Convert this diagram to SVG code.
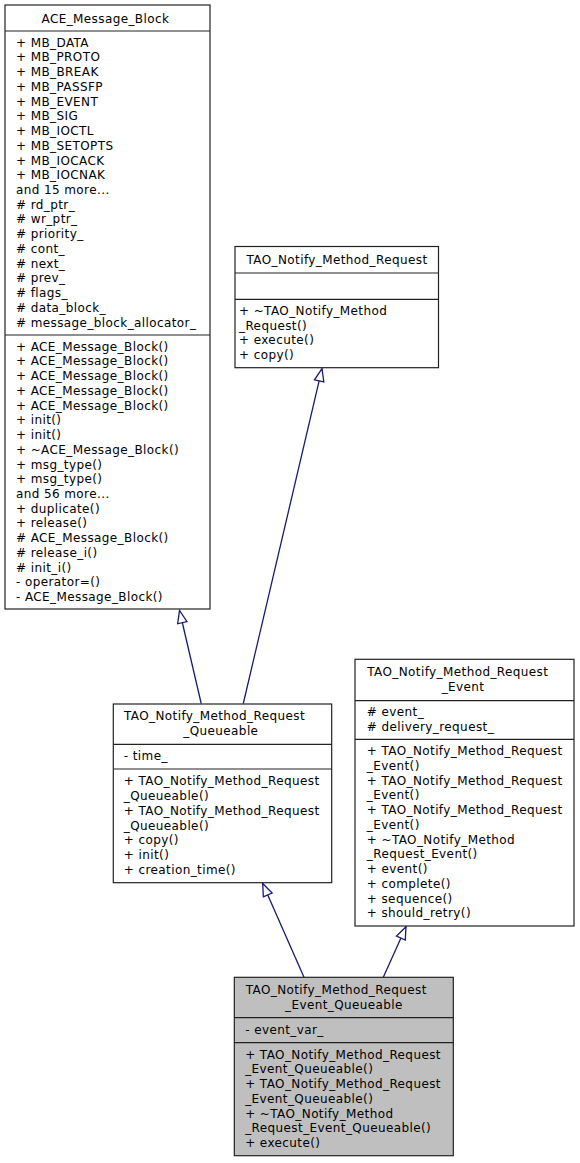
<svg xmlns="http://www.w3.org/2000/svg" width="580" height="1163" viewBox="0 0 580 1163">
<style>
text{font-family:"DejaVu Sans","Liberation Sans",sans-serif;font-size:12px;letter-spacing:0.4px;fill:#000}
.box{fill:#fff;stroke:#222;stroke-width:1.2}
.cur{fill:#bfbfbf;stroke:#222;stroke-width:1.2}
.sep{stroke:#222;stroke-width:1.2}
.edge{stroke:#191970;stroke-width:1.3;fill:none;marker-end:url(#empty)}
</style>
<defs>
<marker id="empty" markerUnits="userSpaceOnUse" viewBox="-14 -6 16 12" markerWidth="16" markerHeight="12" refX="0" refY="0" orient="auto">
<path d="M0,0 L-12.5,-4.8 L-12.5,4.8 Z" fill="#fff" stroke="#191970" stroke-width="1.3"/>
</marker>
</defs>
<rect width="580" height="1163" fill="#fff"/>
<g id="edges">
<line class="edge" x1="201.2" y1="703.5" x2="179.5" y2="610.5"/>
<line class="edge" x1="243.3" y1="703.5" x2="322" y2="368.7"/>
<line class="edge" x1="304" y1="977.3" x2="262.7" y2="883.5"/>
<line class="edge" x1="383.3" y1="977.3" x2="406" y2="926.7"/>
</g>
<g id="ACE_Message_Block">
<rect class="box" x="5" y="5" width="205" height="604"/>
<line class="sep" x1="5" y1="31" x2="210" y2="31"/>
<line class="sep" x1="5" y1="335" x2="210" y2="335"/>
<text x="41.5" y="22.5">ACE_Message_Block</text>
<text y="46.6"><tspan x="16" dy="0">+ MB_DATA</tspan><tspan x="16" dy="14.74">+ MB_PROTO</tspan><tspan x="16" dy="14.74">+ MB_BREAK</tspan><tspan x="16" dy="14.74">+ MB_PASSFP</tspan><tspan x="16" dy="14.74">+ MB_EVENT</tspan><tspan x="16" dy="14.74">+ MB_SIG</tspan><tspan x="16" dy="14.74">+ MB_IOCTL</tspan><tspan x="16" dy="14.74">+ MB_SETOPTS</tspan><tspan x="16" dy="14.74">+ MB_IOCACK</tspan><tspan x="16" dy="14.74">+ MB_IOCNAK</tspan><tspan x="16" dy="14.74">and 15 more...</tspan><tspan x="16" dy="14.74"># rd_ptr_</tspan><tspan x="16" dy="14.74"># wr_ptr_</tspan><tspan x="16" dy="14.74"># priority_</tspan><tspan x="16" dy="14.74"># cont_</tspan><tspan x="16" dy="14.74"># next_</tspan><tspan x="16" dy="14.74"># prev_</tspan><tspan x="16" dy="14.74"># flags_</tspan><tspan x="16" dy="14.74"># data_block_</tspan><tspan x="16" dy="14.74"># message_block_allocator_</tspan></text>
<text y="350.6"><tspan x="16" dy="0">+ ACE_Message_Block()</tspan><tspan x="16" dy="14.74">+ ACE_Message_Block()</tspan><tspan x="16" dy="14.74">+ ACE_Message_Block()</tspan><tspan x="16" dy="14.74">+ ACE_Message_Block()</tspan><tspan x="16" dy="14.74">+ ACE_Message_Block()</tspan><tspan x="16" dy="14.74">+ init()</tspan><tspan x="16" dy="14.74">+ init()</tspan><tspan x="16" dy="14.74">+ ~ACE_Message_Block()</tspan><tspan x="16" dy="14.74">+ msg_type()</tspan><tspan x="16" dy="14.74">+ msg_type()</tspan><tspan x="16" dy="14.74">and 56 more...</tspan><tspan x="16" dy="14.74">+ duplicate()</tspan><tspan x="16" dy="14.74">+ release()</tspan><tspan x="16" dy="14.74"># ACE_Message_Block()</tspan><tspan x="16" dy="14.74"># release_i()</tspan><tspan x="16" dy="14.74"># init_i()</tspan><tspan x="16" dy="14.74">- operator=()</tspan><tspan x="16" dy="14.74">- ACE_Message_Block()</tspan></text>
</g>
<g id="TAO_Notify_Method_Request">
<rect class="box" x="235" y="246.5" width="203.5" height="121.2"/>
<line class="sep" x1="235" y1="273" x2="438.5" y2="273"/>
<line class="sep" x1="235" y1="299.3" x2="438.5" y2="299.3"/>
<text x="246.5" y="263.8">TAO_Notify_Method_Request</text>
<text y="315"><tspan x="239" dy="0">+ ~TAO_Notify_Method</tspan><tspan x="239" dy="14.74">_Request()</tspan><tspan x="239" dy="14.74">+ execute()</tspan><tspan x="239" dy="14.74">+ copy()</tspan></text>
</g>
<g id="TAO_Notify_Method_Request_Queueable">
<rect class="box" x="113.3" y="704" width="218.4" height="178.7"/>
<line class="sep" x1="113.3" y1="744.3" x2="331.7" y2="744.3"/>
<line class="sep" x1="113.3" y1="769" x2="331.7" y2="769"/>
<text x="124" y="720.4">TAO_Notify_Method_Request</text>
<text x="183.3" y="735.1">_Queueable</text>
<text x="123.8" y="760.3">- time_</text>
<text y="785.3"><tspan x="123.8" dy="0">+ TAO_Notify_Method_Request</tspan><tspan x="123.8" dy="14.74">_Queueable()</tspan><tspan x="123.8" dy="14.74">+ TAO_Notify_Method_Request</tspan><tspan x="123.8" dy="14.74">_Queueable()</tspan><tspan x="123.8" dy="14.74">+ copy()</tspan><tspan x="123.8" dy="14.74">+ init()</tspan><tspan x="123.8" dy="14.74">+ creation_time()</tspan></text>
</g>
<g id="TAO_Notify_Method_Request_Event">
<rect class="box" x="355" y="659.3" width="219" height="266.7"/>
<line class="sep" x1="355" y1="700.7" x2="574" y2="700.7"/>
<line class="sep" x1="355" y1="739.3" x2="574" y2="739.3"/>
<text x="367.3" y="676.3">TAO_Notify_Method_Request</text>
<text x="441.7" y="691">_Event</text>
<text y="716.3"><tspan x="366.8" dy="0"># event_</tspan><tspan x="366.8" dy="14.74"># delivery_request_</tspan></text>
<text y="755.2"><tspan x="366.8" dy="0">+ TAO_Notify_Method_Request</tspan><tspan x="366.8" dy="14.74">_Event()</tspan><tspan x="366.8" dy="14.74">+ TAO_Notify_Method_Request</tspan><tspan x="366.8" dy="14.74">_Event()</tspan><tspan x="366.8" dy="14.74">+ TAO_Notify_Method_Request</tspan><tspan x="366.8" dy="14.74">_Event()</tspan><tspan x="366.8" dy="14.74">+ ~TAO_Notify_Method</tspan><tspan x="366.8" dy="14.74">_Request_Event()</tspan><tspan x="366.8" dy="14.74">+ event()</tspan><tspan x="366.8" dy="14.74">+ complete()</tspan><tspan x="366.8" dy="14.74">+ sequence()</tspan><tspan x="366.8" dy="14.74">+ should_retry()</tspan></text>
</g>
<g id="TAO_Notify_Method_Request_Event_Queueable">
<rect class="cur" x="234.3" y="977.3" width="219" height="178.4"/>
<line class="sep" x1="234.3" y1="1017.7" x2="453.3" y2="1017.7"/>
<line class="sep" x1="234.3" y1="1042.7" x2="453.3" y2="1042.7"/>
<text x="245.7" y="993.8">TAO_Notify_Method_Request</text>
<text x="285" y="1008.5">_Event_Queueable</text>
<text x="245.2" y="1033.8">- event_var_</text>
<text y="1058.6"><tspan x="245.2" dy="0">+ TAO_Notify_Method_Request</tspan><tspan x="245.2" dy="14.74">_Event_Queueable()</tspan><tspan x="245.2" dy="14.74">+ TAO_Notify_Method_Request</tspan><tspan x="245.2" dy="14.74">_Event_Queueable()</tspan><tspan x="245.2" dy="14.74">+ ~TAO_Notify_Method</tspan><tspan x="245.2" dy="14.74">_Request_Event_Queueable()</tspan><tspan x="245.2" dy="14.74">+ execute()</tspan></text>
</g>
</svg>
